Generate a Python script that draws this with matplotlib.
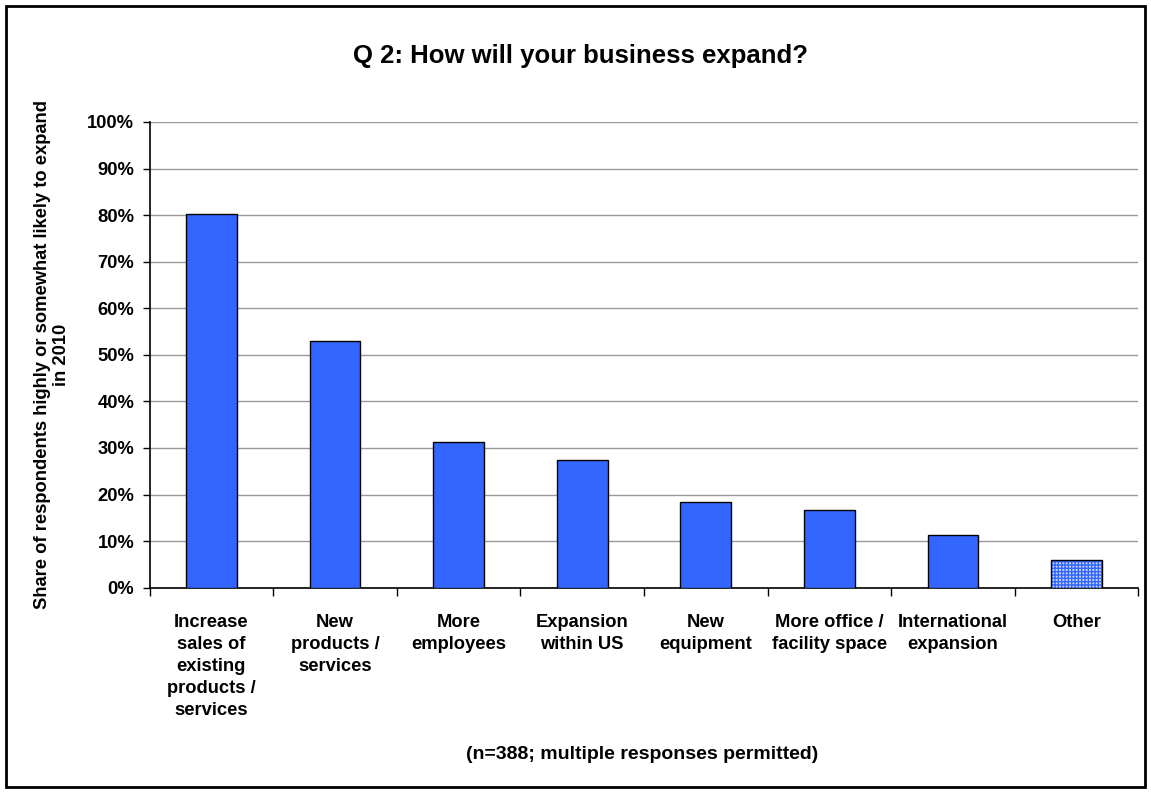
import numpy as np
import matplotlib.pyplot as plt
from matplotlib.patches import Rectangle

# Datos de la encuesta
categorias = [
    "Increase\nsales of\nexisting\nproducts /\nservices",
    "New\nproducts /\nservices",
    "More\nemployees",
    "Expansion\nwithin US",
    "New\nequipment",
    "More office /\nfacility space",
    "International\nexpansion",
    "Other",
]
valores = [80.3, 52.9, 31.2, 27.4, 18.5, 16.7, 11.4, 5.9]

azul = "#3366FF"
plt.rcParams['font.family'] = ['Liberation Sans', 'DejaVu Sans']

fig = plt.figure(figsize=(11.51, 7.92), dpi=100)
ax = fig.add_axes([0.130, 0.258, 0.859, 0.588])

x = np.arange(len(valores))
ancho = 0.41

# Barras sólidas (todas menos "Other")
ax.bar(x[:-1], valores[:-1], width=ancho, color=azul, edgecolor='black',
       linewidth=1.0, zorder=3)

# "Other" con trama cuadriculada
ax.bar(x[-1], valores[-1], width=ancho, color='#c9d6ff', edgecolor=azul,
       hatch='+++++', linewidth=0, zorder=3)
ax.bar(x[-1], valores[-1], width=ancho, fill=False, edgecolor='black',
       linewidth=1.0, zorder=4)

ax.set_xlim(-0.5, len(valores) - 0.5)
ax.set_ylim(0, 100)
ax.set_yticks(np.arange(0, 101, 10))
ax.set_yticklabels([f"{v}%" for v in range(0, 101, 10)], fontsize=13.2, fontweight='bold')
ax.yaxis.grid(True, color='#999999', linewidth=1.0, zorder=0)

# Ticks del eje x en los límites de categoría, etiquetas centradas
ax.set_xticks(np.arange(-0.5, len(valores), 1.0))
ax.set_xticklabels([])
ax.set_xticks(x, minor=True)
ax.set_xticklabels(categorias, minor=True, fontsize=13.2, fontweight='bold',
                   va='top', ha='center', linespacing=1.38)
ax.tick_params(axis='x', which='minor', length=0, pad=19)
ax.tick_params(axis='x', which='major', length=6, direction='out', width=1)
ax.tick_params(axis='y', length=5, direction='out', width=1, pad=6)

for lado in ['top', 'right']:
    ax.spines[lado].set_visible(False)
for lado in ['left', 'bottom']:
    ax.spines[lado].set_linewidth(1.2)

ax.set_ylabel("Share of respondents highly or somewhat likely to expand\nin 2010",
              fontsize=13.2, fontweight='bold', linespacing=1.1)
ax.yaxis.set_label_coords(-0.081, 0.5)

fig.text(0.504, 0.929, "Q 2: How will your business expand?",
         ha='center', va='center', fontsize=18.5, fontweight='bold')
fig.text(0.558, 0.047, "(n=388; multiple responses permitted)",
         ha='center', va='center', fontsize=14, fontweight='bold')

# Marco exterior de la figura
fig.patches.append(Rectangle((0.005, 0.006), 0.99, 0.987, transform=fig.transFigure,
                             fill=False, edgecolor='black', linewidth=2))

fig.savefig("out.png", dpi=100)
